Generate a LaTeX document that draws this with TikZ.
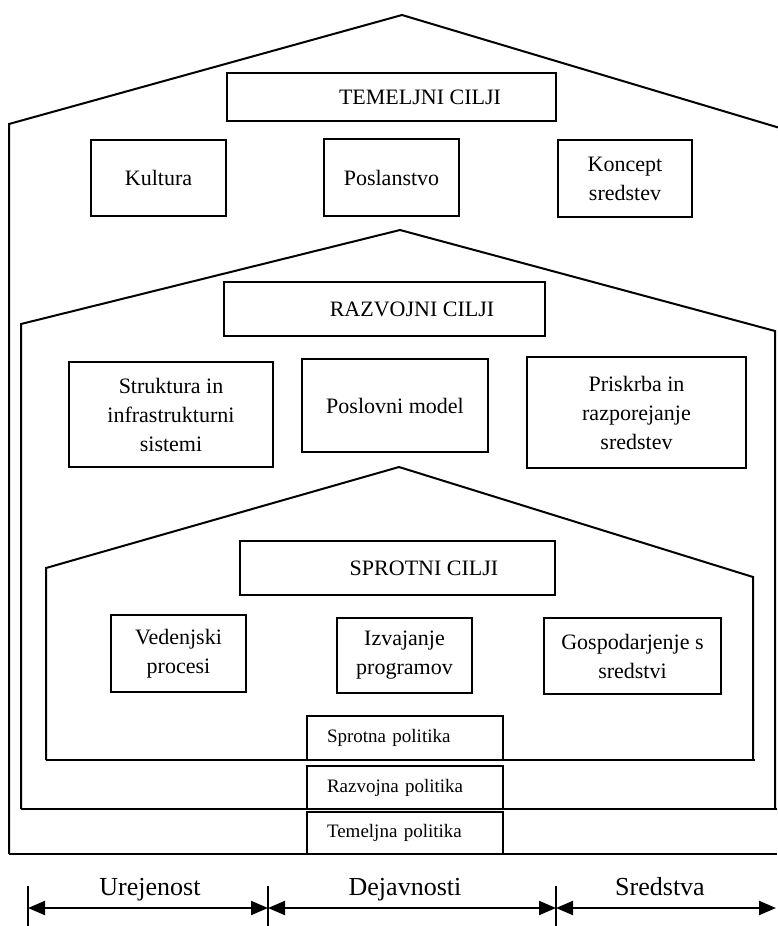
\documentclass[tikz,border=0pt]{standalone}
\usepackage{fontspec}
\setmainfont{Liberation Serif}
\usetikzlibrary{arrows.meta}
\tikzset{
  >={Triangle[length=17pt,width=14pt]},
  wall/.style={line width=2pt,line join=miter},
  box/.style={draw,line width=2pt,fill=white,align=center,inner sep=0pt,
    font=\fontsize{22}{29}\selectfont},
  head/.style={draw,line width=2pt,fill=white,inner sep=0pt,
    font=\fontsize{22}{26}\selectfont},
  policy/.style={draw,line width=2pt,fill=white,align=left,text width=156pt,
    inner xsep=20pt,inner ysep=0pt,font=\fontsize{19}{22}\selectfont},
  span/.style={<->,line width=2pt},
  tick/.style={line width=2pt},
  tag/.style={anchor=base,font=\fontsize{26}{30}\selectfont},
}

\begin{document}
\begin{tikzpicture}[x=1pt,y=-1pt]
  \useasboundingbox (0,0) rectangle (777,926);
  % the three houses
  \draw[wall] (9,854) -- (9,124) -- (402,15) -- (790,131);
  \draw[wall] (9,854) -- (777,854);
  \draw[wall] (21,809) -- (21,324) -- (400,230) -- (775,331) -- (775,809);
  \draw[wall] (21,809) -- (777,809);
  \draw[wall] (46,760) -- (46,568) -- (399,467) -- (753,577) -- (753,760);
  \draw[wall] (46,760) -- (755,760);
  % temeljni cilji
  \node[head,minimum width=329pt,minimum height=48pt] (tc) at (391.5,97) {\hspace*{57pt}TEMELJNI CILJI};
  \node[box,minimum width=135pt,minimum height=76pt] (kul) at (158.5,178) {Kultura};
  \node[box,minimum width=135pt,minimum height=77pt] (pos) at (391.5,177.5) {Poslanstvo};
  \node[box,minimum width=134pt,minimum height=77pt] (kon) at (625,178.5) {Koncept\\sredstev};
  % razvojni cilji
  \node[head,minimum width=321pt,minimum height=54pt] (rc) at (384.5,309) {\hspace*{55pt}RAZVOJNI CILJI};
  \node[box,minimum width=204pt,minimum height=105pt] (str) at (171,414.5) {Struktura in\\infrastrukturni\\sistemi};
  \node[box,minimum width=186pt,minimum height=93pt] (mod) at (395,405.5) {Poslovni model};
  \node[box,minimum width=219pt,minimum height=111pt] (pri) at (636.5,412.5) {Priskrba in\\razporejanje\\sredstev};
  % sprotni cilji
  \node[head,minimum width=315pt,minimum height=54pt] (sc) at (397.5,568) {\hspace*{53pt}SPROTNI CILJI};
  \node[box,minimum width=135pt,minimum height=77pt] (ved) at (178.5,653.5) {Vedenjski\\procesi};
  \node[box,minimum width=135pt,minimum height=75pt] (izv) at (404.5,655.5) {Izvajanje\\programov};
  \node[box,minimum width=177pt,minimum height=76pt] (gos) at (632.5,656) {Gospodarjenje s\\sredstvi};
  % politike
  \node[policy,minimum height=44pt] (sp) at (405,738) {Sprotna politika};
  \node[policy,minimum height=43pt] (rp) at (405,787.5) {Razvojna politika};
  \node[policy,minimum height=42pt] (tp) at (405,833) {Temeljna politika};
  % spodnja merila
  \coordinate (u1) at (28,908);
  \coordinate (u2) at (268,908);
  \coordinate (u3) at (556,908);
  \coordinate (u4) at (776,908);
  \foreach \t in {u1,u2,u3} \draw[tick] (\t) ++(0,-22) -- ++(0,40);
  \draw[span] (u1) -- (u2);
  \draw[span] (u2) -- (u3);
  \draw[span] (u3) -- (u4);
  \node[tag] (ure) at (150,895) {Urejenost};
  \node[tag] (dej) at (405,895) {Dejavnosti};
  \node[tag] (sre) at (660,895) {Sredstva};
\end{tikzpicture}
\end{document}
